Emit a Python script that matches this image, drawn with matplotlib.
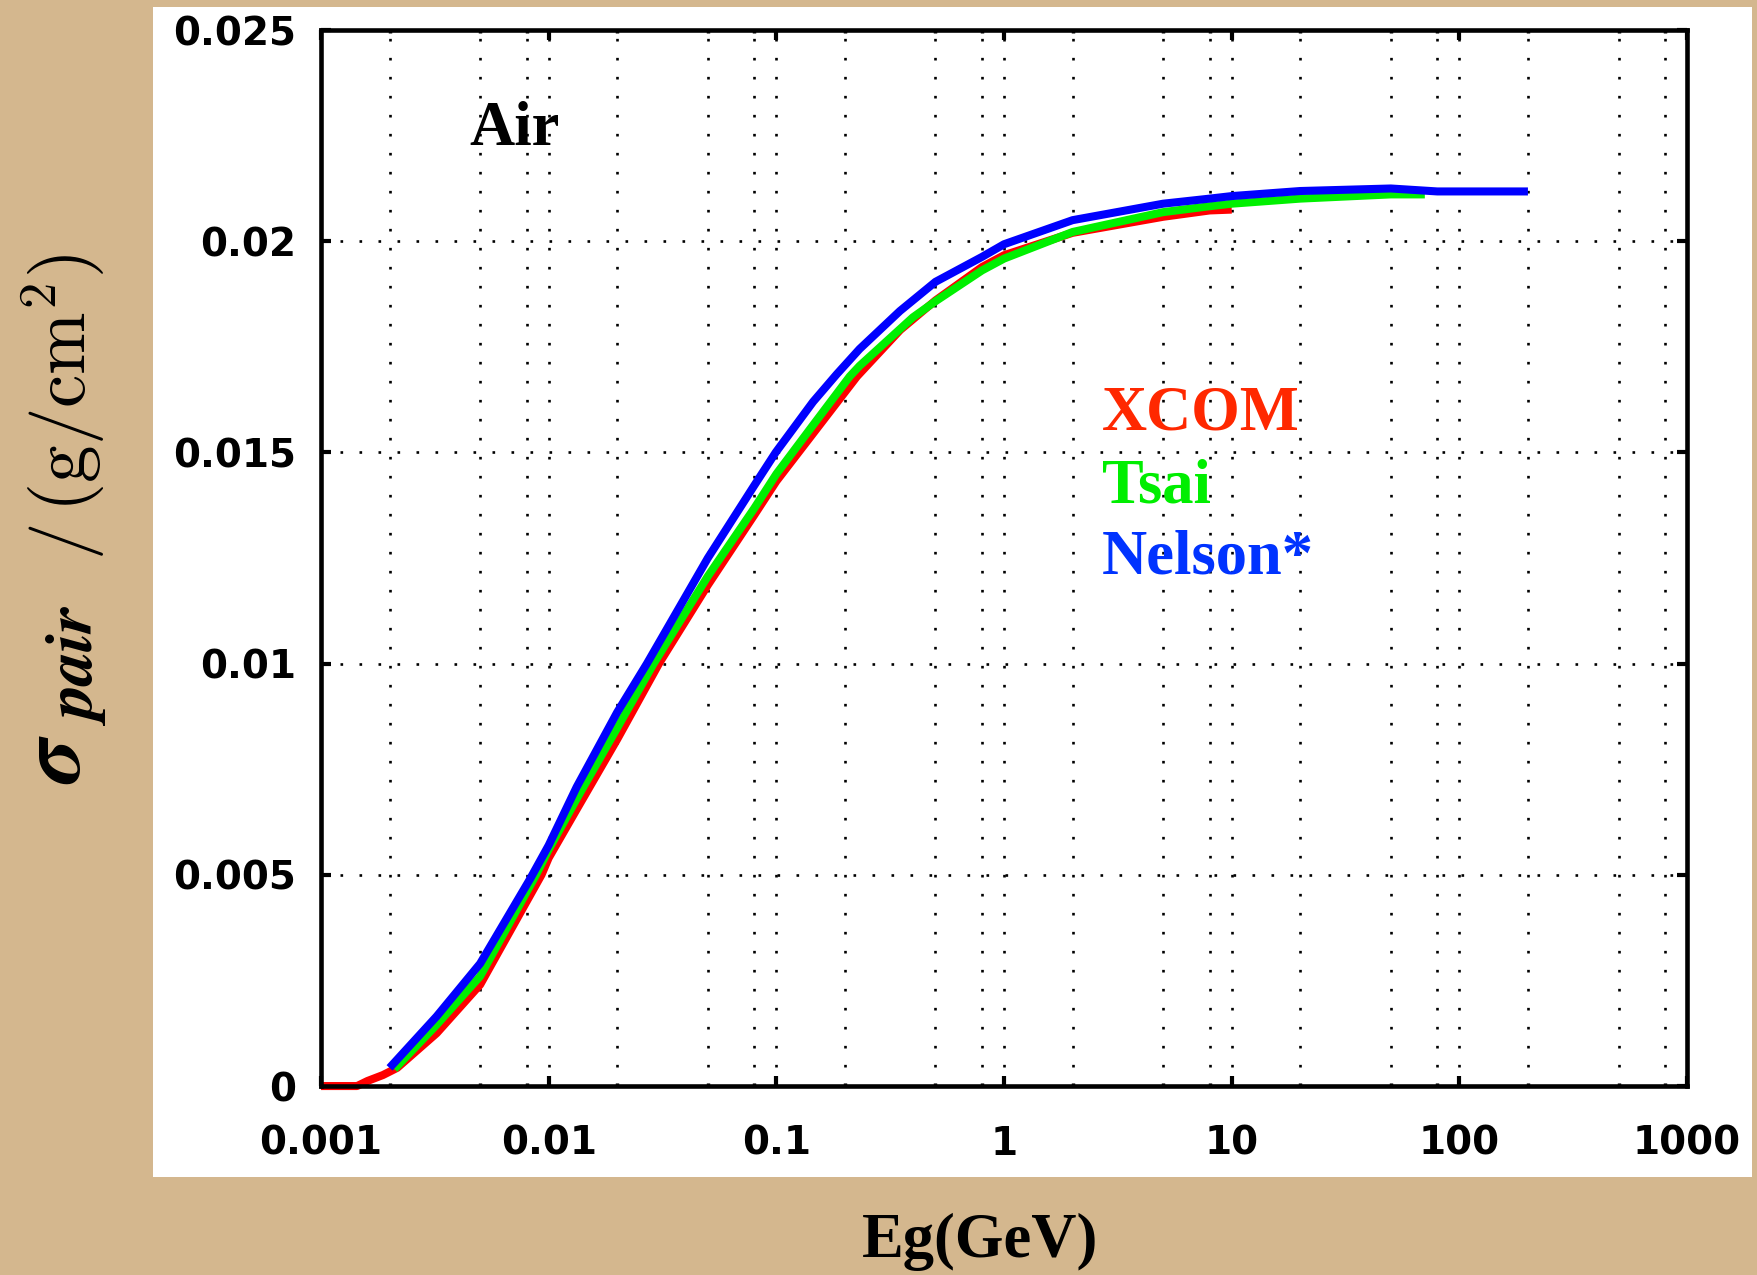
import numpy as np
import matplotlib
matplotlib.use("Agg")
import matplotlib.pyplot as plt
from matplotlib.patches import Rectangle
from matplotlib.ticker import LogLocator, FixedLocator, NullFormatter

plt.rcParams['mathtext.fontset'] = 'cm'

# --- datos ---
# XCOM (rojo)
e_xcom = [0.001, 0.00144, 0.0016, 0.00187, 0.00216, 0.00322, 0.005, 0.0093, 0.01, 0.01327,
          0.02, 0.0305, 0.05, 0.08, 0.1, 0.145, 0.226, 0.35, 0.5, 0.8, 1.0, 2.0, 5.0, 8.0, 10.0]
s_xcom = [0.0, 0.0, 0.00012, 0.00026, 0.00043, 0.00125, 0.0024, 0.005, 0.0054, 0.00655,
          0.00821, 0.01, 0.01186, 0.01352, 0.01432, 0.01545, 0.0168, 0.0179, 0.0186, 0.01939,
          0.01967, 0.0202, 0.02058, 0.02073, 0.02075]

# Tsai (verde)
e_tsai = [0.0021, 0.00322, 0.005, 0.0088, 0.01, 0.01327, 0.02, 0.0289, 0.05, 0.08, 0.1,
          0.145, 0.21, 0.232, 0.398, 0.5, 0.8, 1.0, 2.0, 5.0, 8.0, 10.0, 20.0, 50.0, 70.5]
s_tsai = [0.0004, 0.00145, 0.0026, 0.005, 0.0056, 0.0068, 0.00848, 0.01, 0.01207, 0.01368, 0.01449,
          0.01565, 0.0168, 0.01705, 0.0182, 0.01858, 0.01931, 0.01959, 0.02022, 0.02069, 0.02083,
          0.02089, 0.02101, 0.02111, 0.02111]

# Nelson* (azul)
e_nelson = [0.002, 0.00322, 0.005, 0.00828, 0.01, 0.01327, 0.02, 0.027, 0.05, 0.08, 0.0993,
            0.145, 0.184, 0.232, 0.349, 0.5, 0.8, 1.0, 2.0, 5.0, 8.0, 10.0, 20.0, 50.0, 80.0,
            100.0, 200.0]
s_nelson = [0.00043, 0.00165, 0.0029, 0.0049, 0.0057, 0.00708, 0.00885, 0.01, 0.0125, 0.01422, 0.015,
            0.0162, 0.01685, 0.01745, 0.01835, 0.01904, 0.01963, 0.01993, 0.0205, 0.02089, 0.02101,
            0.02107, 0.02119, 0.02125, 0.02118, 0.02118, 0.02118]

x_ticks = [0.001, 0.01, 0.1, 1, 10, 100, 1000]
x_labels = ['0.001', '0.01', '0.1', '1', '10', '100', '1000']
y_ticks = [0, 0.005, 0.01, 0.015, 0.02, 0.025]
y_labels = ['0', '0.005', '0.01', '0.015', '0.02', '0.025']

series = [
    ("XCOM", e_xcom, s_xcom, '#FF0000', '#FF2800'),
    ("Tsai", e_tsai, s_tsai, '#00F000', '#00EE00'),
    ("Nelson*", e_nelson, s_nelson, '#0000FF', '#0033FF'),
]

# --- figura ---
fig = plt.figure(figsize=(17.57, 12.75), dpi=100)
fig.patch.set_facecolor('#D4B78E')

# panel blanco detras del grafico
fig.patches.append(Rectangle((0.0871, 0.0769), 0.9101, 0.9176, transform=fig.transFigure,
                             facecolor='white', edgecolor='none', zorder=-10))

ax = fig.add_axes([0.1827, 0.1482, 0.7775, 0.8282])
ax.set_facecolor('white')

for nombre, e, s, color_linea, color_texto in series:
    ax.plot(e, s, color=color_linea, lw=5.8, solid_capstyle='butt',
            solid_joinstyle='round', clip_on=False, zorder=2)

ax.set_xscale('log')
ax.set_xlim(1e-3, 1e3)
ax.set_ylim(0, 0.025)

ax.xaxis.set_major_locator(FixedLocator(x_ticks))
ax.set_xticklabels(x_labels)
ax.xaxis.set_minor_locator(LogLocator(base=10, subs=[2, 5, 8], numticks=20))
ax.xaxis.set_minor_formatter(NullFormatter())
ax.set_yticks(y_ticks)
ax.set_yticklabels(y_labels)

# rejilla punteada
estilo_rejilla = dict(color='black', lw=1.9, linestyle=(0, (1, 6.2)))
ax.grid(True, which='major', **estilo_rejilla)
ax.grid(True, which='minor', axis='x', **estilo_rejilla)
ax.set_axisbelow(True)

for sp in ax.spines.values():
    sp.set_linewidth(3.3)
    sp.set_zorder(3)

ax.tick_params(which='major', direction='in', top=True, right=True, length=7, width=3)
ax.tick_params(which='minor', direction='in', top=True, right=False, length=2.5, width=2.5)
ax.tick_params(axis='y', pad=18)
ax.tick_params(axis='x', pad=28)
for lab in ax.get_xticklabels() + ax.get_yticklabels():
    lab.set_fontfamily('DejaVu Sans')
    lab.set_fontweight('bold')
    lab.set_fontsize(28)

# textos dentro del grafico
ax.text(0.00447, 0.02228, 'Air', fontfamily='Liberation Serif', fontweight='bold',
        fontsize=45, color='black', ha='left', va='baseline')

y_textos = [0.01555, 0.01382, 0.01214]
for (nombre, e, s, color_linea, color_texto), yt in zip(series, y_textos):
    ax.text(2.70, yt, nombre, fontfamily='Liberation Serif', fontweight='bold',
            fontsize=45, color=color_texto, ha='left', va='baseline')

# etiquetas de los ejes
fig.text(0.558, 0.026, 'Eg(GeV)', fontfamily='Liberation Serif', fontweight='bold',
         fontsize=45, ha='center', va='center')
# eje y en trozos: sigma y "pair" en negrita cursiva (stix), unidades en cm
fig.text(0.0455, 0.385, r'$\boldsymbol{\sigma}$', math_fontfamily='stix',
         fontsize=64, rotation=90, rotation_mode='anchor', ha='left', va='baseline')
fig.text(0.0524, 0.4306, r'$\boldsymbol{pair}$', math_fontfamily='stix',
         fontsize=48, rotation=90, rotation_mode='anchor', ha='left', va='baseline')
fig.text(0.049, 0.561, r'$/\,(\mathrm{g/cm}^{\mathbf{2}})$', math_fontfamily='cm',
         fontsize=54, rotation=90, rotation_mode='anchor', ha='left', va='baseline')

fig.savefig('out.png', dpi=100, facecolor=fig.get_facecolor())
